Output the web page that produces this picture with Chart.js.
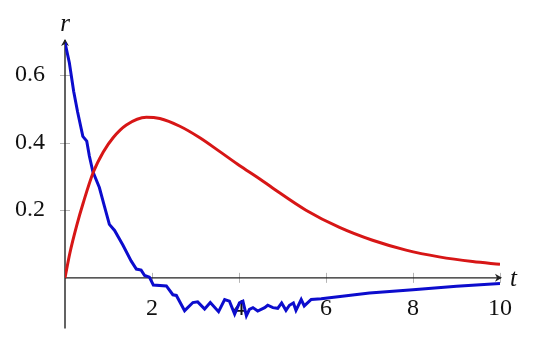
<!DOCTYPE html>
<html>
<head>
<meta charset="utf-8">
<script src="https://cdn.jsdelivr.net/npm/chart.js@4"></script>
<style>
  body { margin: 0; background: #fff; }
</style>
</head>
<body>
<canvas id="chart" width="540" height="355"></canvas>
<script>
// red curve
const redT = [0, 0.11, 0.27, 0.42, 0.65, 0.88, 1.11, 1.41, 1.87, 2.18, 2.64, 3.1, 3.56, 4.01, 4.47, 4.78, 5.54, 6.31, 7.07, 7.84, 8.6, 9.37, 10];
const redR = [0, 0.072, 0.155, 0.222, 0.312, 0.372, 0.415, 0.452, 0.475, 0.471, 0.448, 0.414, 0.373, 0.332, 0.293, 0.265, 0.2, 0.149, 0.111, 0.082, 0.062, 0.048, 0.04];

// blue curve (noisy)
const blueT = [0, 0.1, 0.2, 0.29, 0.41, 0.5, 0.56, 0.64, 0.79, 0.91, 1.02, 1.14, 1.33, 1.52, 1.64, 1.75, 1.83, 1.94, 2.03, 2.33, 2.48, 2.56, 2.75, 2.94, 3.05, 3.21, 3.34, 3.53, 3.67, 3.78, 3.9, 4.01, 4.09, 4.17, 4.24, 4.32, 4.43, 4.59, 4.66, 4.78, 4.89, 4.98, 5.08, 5.16, 5.25, 5.31, 5.43, 5.5, 5.66, 5.89, 7, 8, 9, 10];
const blueR = [0.695, 0.636, 0.551, 0.49, 0.418, 0.404, 0.36, 0.314, 0.267, 0.21, 0.158, 0.14, 0.097, 0.05, 0.026, 0.023, 0.007, 0.002, -0.021, -0.024, -0.05, -0.052, -0.097, -0.073, -0.071, -0.092, -0.073, -0.1, -0.064, -0.069, -0.107, -0.074, -0.069, -0.112, -0.093, -0.088, -0.098, -0.088, -0.081, -0.088, -0.09, -0.074, -0.096, -0.081, -0.074, -0.096, -0.064, -0.083, -0.064, -0.062, -0.045, -0.035, -0.025, -0.017];

const xTicks = [2, 4, 6, 8, 10];
const yTicks = [0.2, 0.4, 0.6];

const serif = '"Liberation Serif"';

const toPoints = (xs, ys) => xs.map((v, i) => ({ x: v, y: ys[i] }));

// axis lines with arrows, crossing tick marks, axis names
const axesPlugin = {
  id: 'axesPlugin',
  beforeDatasetsDraw(chart) {
    const { ctx, scales: { x, y } } = chart;
    const x0 = x.getPixelForValue(0);
    const y0 = y.getPixelForValue(0);
    const xEnd = x.getPixelForValue(10) + 1;
    const yTop = y.getPixelForValue(0.7) - 1;
    const yBot = y.getPixelForValue(-0.15);
    ctx.save();
    ctx.strokeStyle = '#b5b5b5';
    ctx.lineWidth = 1;
    ctx.beginPath();
    xTicks.forEach(v => {
      const p = Math.round(x.getPixelForValue(v)) + 0.5;
      ctx.moveTo(p, y0 - 5);
      ctx.lineTo(p, y0 + 5);
    });
    yTicks.forEach(v => {
      const p = Math.round(y.getPixelForValue(v)) + 0.5;
      ctx.moveTo(x0 - 5, p);
      ctx.lineTo(x0 + 5, p);
    });
    ctx.stroke();

    ctx.strokeStyle = '#222';
    ctx.lineWidth = 1.4;
    ctx.beginPath();
    ctx.moveTo(x0, y0);
    ctx.lineTo(xEnd, y0);
    ctx.moveTo(x0, yBot);
    ctx.lineTo(x0, yTop);
    ctx.stroke();

    ctx.fillStyle = '#222';
    ctx.beginPath();
    ctx.moveTo(xEnd + 1, y0);
    ctx.lineTo(xEnd - 6, y0 - 4);
    ctx.lineTo(xEnd - 4, y0);
    ctx.lineTo(xEnd - 6, y0 + 4);
    ctx.closePath();
    ctx.fill();
    ctx.beginPath();
    ctx.moveTo(x0, yTop - 1);
    ctx.lineTo(x0 - 4, yTop + 6);
    ctx.lineTo(x0, yTop + 4);
    ctx.lineTo(x0 + 4, yTop + 6);
    ctx.closePath();
    ctx.fill();

    ctx.fillStyle = '#111';
    ctx.font = 'italic 25px ' + serif;
    ctx.textAlign = 'center';
    ctx.textBaseline = 'alphabetic';
    ctx.fillText('r', x0, 31);
    ctx.textAlign = 'left';
    ctx.fillText('t', xEnd + 9, y0 + 8);
    ctx.restore();
  }
};

new Chart(document.getElementById('chart'), {
  type: 'line',
  data: {
    datasets: [{
      data: toPoints(redT, redR),
      borderColor: 'rgb(215, 22, 22)',
      borderWidth: 3,
      pointRadius: 0,
      cubicInterpolationMode: 'monotone'
    }, {
      data: toPoints(blueT, blueR),
      borderColor: 'rgb(12, 12, 205)',
      borderWidth: 3,
      pointRadius: 0,
      tension: 0
    }]
  },
  options: {
    responsive: false,
    animation: false,
    layout: { padding: { top: 41, bottom: 15, right: 40, left: 0 } },
    scales: {
      x: {
        type: 'linear',
        min: 0,
        max: 10,
        position: { y: 0 },
        grid: { display: false },
        border: { display: false },
        afterBuildTicks: s => { s.ticks = xTicks.map(v => ({ value: v })); },
        ticks: { color: '#111', padding: 8, font: { family: serif, size: 24 } }
      },
      y: {
        type: 'linear',
        min: -0.15,
        max: 0.7,
        position: 'left',
        grid: { display: false },
        border: { display: false },
        afterBuildTicks: s => { s.ticks = yTicks.map(v => ({ value: v })); },
        afterFit: s => { s.width = 65; },
        ticks: { color: '#111', padding: 12, font: { family: serif, size: 24 }, callback: v => v.toFixed(1) }
      }
    },
    plugins: {
      legend: { display: false },
      tooltip: { enabled: false }
    }
  },
  plugins: [axesPlugin]
});
</script>
</body>
</html>
